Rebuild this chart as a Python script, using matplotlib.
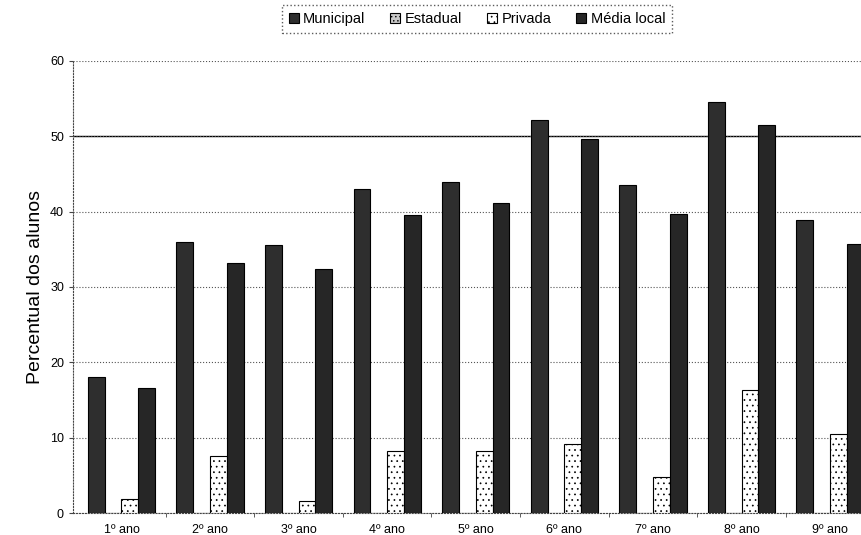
import matplotlib.pyplot as plt
import numpy as np

plt.rcParams['font.family'] = ['Liberation Sans', 'DejaVu Sans']
plt.rcParams['hatch.color'] = '#999999'
plt.rcParams['hatch.linewidth'] = 0.5

# data
anos = ['1º ano', '2º ano', '3º ano', '4º ano', '5º ano', '6º ano', '7º ano', '8º ano', '9º ano']
municipal = [18.1, 36.0, 35.6, 43.0, 44.0, 52.2, 43.6, 54.6, 38.9]
estadual = [0, 0, 0, 0, 0, 0, 0, 0, 0]
privada = [1.9, 7.6, 1.6, 8.2, 8.2, 9.2, 4.8, 16.3, 10.5]
media_local = [16.6, 33.2, 32.4, 39.6, 41.2, 49.7, 39.7, 51.5, 35.7]

series = [
    ('Municipal', municipal, '#2e2e2e', ''),
    ('Estadual', estadual, '#c8c8c8', '....'),
    ('Privada', privada, 'white', '...'),
    ('Média local', media_local, '#262626', ''),
]

fig = plt.figure(figsize=(8.62, 5.35), dpi=100)
ax = fig.add_axes([73 / 862, 1 - 513 / 535, (862 - 73) / 862, (513 - 61) / 535])

x = np.arange(len(anos))
w = 0.19
for k, (name, vals, col, hatch) in enumerate(series):
    ax.bar(x + (k - 1.5) * w, vals, w, color=col, edgecolor='black', linewidth=0.8,
           hatch=hatch, label=name, zorder=3)

ax.set_ylim(0, 60)
ax.set_xlim(-0.547, 8.36)
ax.set_yticks(range(0, 61, 10))
ax.set_xticks(x)
ax.set_xticklabels(anos)
ax.set_xticks(x[:-1] + 0.5, minor=True)
ax.tick_params(axis='x', which='major', length=0, pad=8, labelsize=9)
ax.tick_params(axis='x', which='minor', length=3, color='#444444')
ax.tick_params(axis='y', length=3, labelsize=9, color='#444444')

ax.grid(axis='y', linestyle=':', color='#555555', linewidth=0.8, zorder=0)
ax.axhline(50, color='black', linewidth=1.0, zorder=1)

for s in ['top', 'right']:
    ax.spines[s].set_visible(False)
for s in ['left', 'bottom']:
    ax.spines[s].set_linestyle(':')
    ax.spines[s].set_color('#444444')

ax.set_ylabel('Percentual dos alunos', fontsize=14, labelpad=4)

leg = fig.legend(loc='center', bbox_to_anchor=(477 / 862, 1 - 19 / 535), ncol=4,
                 fontsize=10.5, handlelength=0.7, handleheight=0.7, handletextpad=0.3,
                 columnspacing=1.7, fancybox=False, borderpad=0.45, borderaxespad=0)
leg.get_frame().set_edgecolor('#333333')
leg.get_frame().set_linestyle(':')

fig.savefig('out.png', dpi=100)
